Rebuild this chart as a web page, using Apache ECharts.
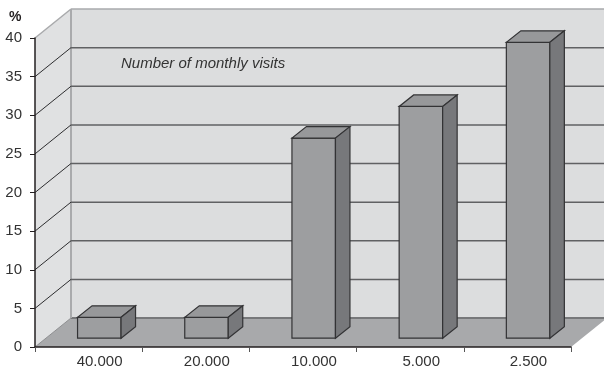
<!DOCTYPE html>
<html>
<head>
<meta charset="utf-8">
<style>
  html, body { margin: 0; padding: 0; background: #fff; }
  #chart { width: 604px; height: 371px; }
</style>
<script src="https://cdn.jsdelivr.net/npm/echarts@6/dist/echarts.min.js"></script>
</head>
<body>
<div id="chart"></div>
<script>
const categories = ['40.000', '20.000', '10.000', '5.000', '2.500'];
const visitShare = [2.7, 2.7, 25.9, 30.0, 38.3];
const wallLevels = [5, 10, 15, 20, 25, 30, 35];
const valueMax = 40;
const valueStep = 5;

// Oblique projection of the chart box and of each bar
const BOX_DX = 36, BOX_DY = -29;
const BAR_DX = 14.5, BAR_DY = -11.5;
const BAR_SHIFT_X = 10.7, BAR_SHIFT_Y = -8.8;
const BAR_WIDTH = 43.5;

const chart = echarts.init(document.getElementById('chart'), null, { renderer: 'canvas' });

function poly(points, fill, stroke, lineWidth) {
  return {
    type: 'polygon',
    shape: { points },
    style: { fill, stroke: stroke || 'none', lineWidth: lineWidth || 0 }
  };
}
function line(x1, y1, x2, y2, stroke, lineWidth) {
  return {
    type: 'line',
    shape: { x1, y1, x2, y2 },
    style: { stroke, lineWidth, fill: 'none' }
  };
}

// Side wall, back wall and floor
function renderBox(params, api) {
  const cs = params.coordSys;
  const left = cs.x, right = cs.x + cs.width;
  const y0 = api.coord([0, 0])[1];
  const yTop = api.coord([0, valueMax])[1];
  const bx = left + BOX_DX, brx = right + BOX_DX;
  return {
    type: 'group',
    children: [
      poly([[left, y0], [left, yTop], [bx, yTop + BOX_DY], [bx, y0 + BOX_DY]], '#e0e1e2'),
      poly([[bx, yTop + BOX_DY], [brx, yTop + BOX_DY], [brx, y0 + BOX_DY], [bx, y0 + BOX_DY]], '#dcddde'),
      poly([[left, y0], [right, y0], [brx, y0 + BOX_DY], [bx, y0 + BOX_DY]], '#a8a9ab'),
      line(bx, y0 + BOX_DY, brx, y0 + BOX_DY, '#77787a', 2),
      line(bx, yTop + BOX_DY, bx, y0 + BOX_DY, '#a9aaac', 2),
      line(bx, yTop + BOX_DY, brx, yTop + BOX_DY, '#a9aaac', 1.5),
      line(left, yTop, bx, yTop + BOX_DY, '#a9aaac', 1.5),
      line(left, y0, bx, y0 + BOX_DY, '#8e8f91', 1)
    ]
  };
}

// One gridline wrapped over the side wall and the back wall
function renderLevel(params, api) {
  const cs = params.coordSys;
  const left = cs.x, right = cs.x + cs.width;
  const y = api.coord([0, api.value(1)])[1];
  return {
    type: 'group',
    children: [
      line(left, y, left + BOX_DX, y + BOX_DY, '#2e2e30', 1),
      line(left + BOX_DX, y + BOX_DY, right + BOX_DX, y + BOX_DY, '#606163', 1.5)
    ]
  };
}

// Bar as a cuboid: front face, top face, side face
function renderBar(params, api) {
  const base = api.coord([api.value(0), 0]);
  const head = api.coord([api.value(0), api.value(1)]);
  const x0 = base[0] + BAR_SHIFT_X - BAR_WIDTH / 2;
  const x1 = x0 + BAR_WIDTH;
  const yb = base[1] + BAR_SHIFT_Y;
  const yt = head[1] + BAR_SHIFT_Y;
  const edge = '#333335';
  return {
    type: 'group',
    children: [
      poly([[x0, yb], [x1, yb], [x1, yt], [x0, yt]], '#9d9ea0', edge, 1.2),
      poly([[x0, yt], [x1, yt], [x1 + BAR_DX, yt + BAR_DY], [x0 + BAR_DX, yt + BAR_DY]], '#97989a', edge, 1.2),
      poly([[x1, yb], [x1 + BAR_DX, yb + BAR_DY], [x1 + BAR_DX, yt + BAR_DY], [x1, yt]], '#77787b', edge, 1.2)
    ]
  };
}

chart.setOption({
  animation: false,
  backgroundColor: '#ffffff',
  textStyle: { fontFamily: '"Liberation Sans", Arial, sans-serif' },
  grid: { left: 35, right: 33, top: 38, bottom: 24, containLabel: false },
  xAxis: {
    type: 'category',
    data: categories,
    z: 5,
    boundaryGap: true,
    axisLine: { show: true, lineStyle: { color: '#231f20', width: 1.5 } },
    axisTick: { show: true, length: 5, lineStyle: { color: '#555', width: 1 } },
    // left padding sets each label under its bar rather than under the slot centre
    axisLabel: { color: '#333', fontSize: 15, margin: 7, interval: 0, padding: [0, 0, 0, 22] },
    splitLine: { show: false }
  },
  yAxis: {
    type: 'value',
    min: 0,
    max: valueMax,
    interval: valueStep,
    z: 5,
    axisLine: { show: true, lineStyle: { color: '#231f20', width: 1.5 } },
    axisTick: { show: true, length: 5, lineStyle: { color: '#231f20', width: 1 } },
    axisLabel: { color: '#333', fontSize: 15, margin: 13 },
    splitLine: { show: false }
  },
  graphic: [
    {
      type: 'text',
      left: 9, top: 10,
      style: { text: '%', fill: '#231f20', font: 'bold 14px "Liberation Sans", Arial, sans-serif' }
    },
    {
      type: 'text',
      left: 121, top: 56,
      z: 10,
      style: { text: 'Number of monthly visits', fill: '#333', font: 'italic 15px "Liberation Sans", Arial, sans-serif' }
    }
  ],
  series: [
    { type: 'custom', z: 1, silent: true, renderItem: renderBox, data: [[0, 0]] },
    { type: 'custom', z: 2, silent: true, renderItem: renderLevel, data: wallLevels.map(v => [0, v]) },
    { type: 'custom', z: 3, silent: true, renderItem: renderBar, data: visitShare.map((v, i) => [i, v]) }
  ]
});
</script>
</body>
</html>
